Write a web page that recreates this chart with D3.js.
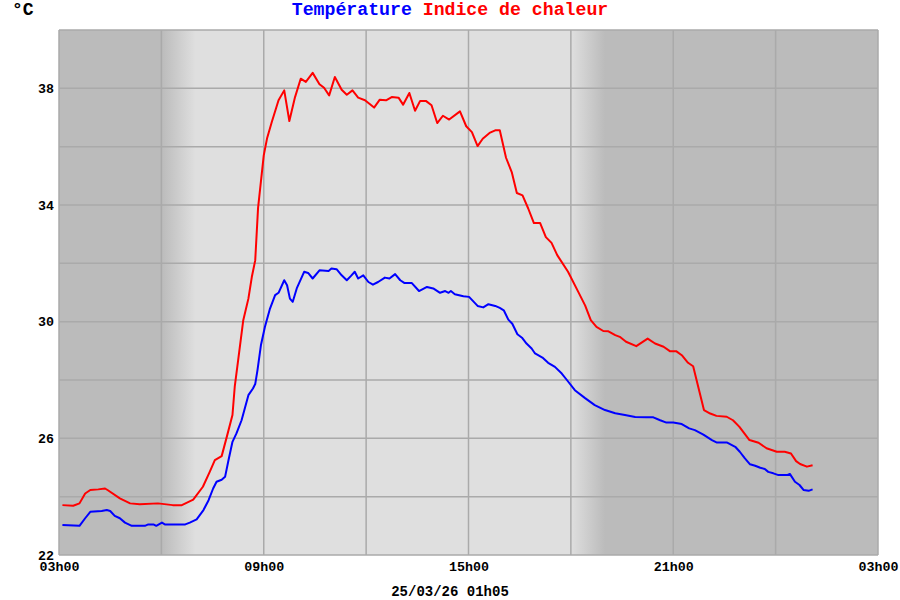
<!DOCTYPE html>
<html><head><meta charset="utf-8">
<script src="https://cdn.jsdelivr.net/npm/d3@7"></script>
<style>body{margin:0;background:#fff}svg{display:block}</style>
</head><body><svg id="c" width="900" height="600"></svg>
<script>
// ---------- data ----------
const heatTimes = ["03:06","03:25","03:36","03:46","03:55","04:09","04:21","04:26","04:47","05:05","05:22","05:54","06:20","06:36","06:56","07:13","07:25","07:34","07:46","07:55","08:05","08:09","08:15","08:24","08:33","08:39","08:45","08:50","08:55","09:00","09:06","09:14","09:26","09:36","09:45","09:55","10:05","10:14","10:26","10:38","10:46","10:55","11:05","11:17","11:26","11:36","11:46","11:58","12:14","12:24","12:35","12:45","12:57","13:05","13:16","13:26","13:35","13:45","13:55","14:05","14:15","14:26","14:45","14:56","15:06","15:16","15:25","15:37","15:47","15:55","16:06","16:16","16:25","16:35","16:45","16:55","17:06","17:16","17:26","17:36","17:55","18:13","18:25","18:35","18:45","18:57","19:06","19:18","19:26","19:37","19:55","20:15","20:28","20:43","20:54","21:05","21:15","21:26","21:35","21:54","22:05","22:16","22:34","22:45","22:56","23:14","23:30","23:44","00:02","00:16","00:27","00:36","00:43","00:55","01:05"];
const heatValues = [23.71,23.69,23.77,24.11,24.23,24.25,24.28,24.22,23.94,23.77,23.74,23.77,23.71,23.71,23.9,24.34,24.85,25.25,25.39,26.05,26.8,27.77,28.68,30.05,30.79,31.53,32.1,33.9,34.8,35.7,36.3,36.84,37.59,37.93,36.88,37.7,38.33,38.22,38.53,38.14,38.02,37.76,38.39,37.95,37.78,37.93,37.68,37.59,37.34,37.61,37.59,37.7,37.68,37.44,37.84,37.23,37.57,37.57,37.42,36.81,37.06,36.93,37.21,36.7,36.5,36.02,36.27,36.47,36.56,36.56,35.62,35.13,34.41,34.33,33.88,33.38,33.38,32.9,32.7,32.28,31.71,31.02,30.56,30.05,29.82,29.68,29.67,29.54,29.48,29.31,29.16,29.42,29.25,29.14,28.99,28.99,28.85,28.59,28.47,26.97,26.85,26.77,26.74,26.62,26.4,25.94,25.85,25.66,25.54,25.54,25.48,25.22,25.12,25.03,25.08];

const tempTimes = ["03:06","03:36","03:46","03:55","04:15","04:24","04:30","04:38","04:47","04:56","05:08","05:31","05:37","05:46","05:51","06:01","06:06","06:42","06:50","07:02","07:14","07:23","07:31","07:37","07:46","07:52","07:58","08:05","08:12","08:21","08:33","08:41","08:45","08:49","08:55","09:02","09:11","09:20","09:26","09:36","09:41","09:46","09:51","09:58","10:11","10:18","10:26","10:38","10:54","10:59","11:08","11:17","11:26","11:33","11:40","11:46","11:55","12:04","12:12","12:21","12:33","12:41","12:51","13:00","13:07","13:20","13:33","13:47","13:58","14:10","14:19","14:25","14:29","14:36","14:51","15:01","15:16","15:26","15:35","15:47","15:55","16:02","16:10","16:17","16:26","16:34","16:42","16:51","16:57","17:10","17:20","17:32","17:44","17:53","18:07","18:25","18:42","19:00","19:18","19:35","19:53","20:13","20:25","20:37","20:48","21:00","21:15","21:28","21:38","21:53","22:08","22:16","22:34","22:49","22:57","23:06","23:15","23:24","23:33","23:41","23:47","23:56","00:05","00:20","00:25","00:34","00:42","00:49","00:58","01:05"];
const tempValues = [23.03,23.0,23.26,23.48,23.51,23.54,23.51,23.34,23.26,23.11,23.0,23.0,23.05,23.05,23.0,23.11,23.05,23.05,23.11,23.22,23.54,23.88,24.28,24.51,24.58,24.68,25.25,25.88,26.17,26.62,27.48,27.71,27.86,28.34,29.19,29.82,30.45,30.91,30.99,31.42,31.25,30.79,30.68,31.14,31.71,31.67,31.48,31.76,31.74,31.82,31.8,31.59,31.42,31.56,31.71,31.48,31.59,31.36,31.27,31.36,31.51,31.48,31.63,31.42,31.33,31.33,31.05,31.19,31.14,30.99,31.05,30.99,31.05,30.94,30.87,30.85,30.54,30.49,30.6,30.54,30.47,30.39,30.07,29.93,29.57,29.45,29.25,29.08,28.91,28.77,28.59,28.45,28.22,28.0,27.65,27.38,27.14,26.97,26.86,26.8,26.73,26.72,26.72,26.62,26.54,26.54,26.49,26.34,26.28,26.13,25.94,25.86,25.86,25.71,25.54,25.31,25.11,25.06,24.99,24.95,24.85,24.8,24.74,24.74,24.78,24.51,24.4,24.23,24.2,24.25];

const xTickTimes  = ["03:00","06:00","09:00","12:00","15:00","18:00","21:00","24:00","27:00"];
const xTickLabels = ["03h00","","09h00","","15h00","","21h00","","03h00"];
const yTickValues = [22,26,30,34,38];
const yDomain = [22,40];
const daylight = ["06:00","07:00","18:00","19:00"]; // dawn start, full day, dusk start, full night
const seriesNames = ["Température","Indice de chaleur"];
const unitLabel = "°C";
const stampLabel = "25/03/26 01h05";

// ---------- layout ----------
const W = 900, H = 600;
const m = {top:30, right:22, bottom:45, left:59};
const iw = W - m.left - m.right, ih = H - m.top - m.bottom;
const FONT = "'Liberation Mono','Courier New',monospace";

const day0 = new Date(2026,2,24,0,0);
function parseT(t){
  let [h,mm] = t.split(":").map(Number);
  if (h < 3) h += 24;
  return new Date(day0.getTime() + (h*60+mm)*60000);
}

const x = d3.scaleTime().domain([parseT("03:00"), parseT("27:00")]).range([0, iw]);
const y = d3.scaleLinear().domain(yDomain).range([ih, 0]);

const svg = d3.select("#c");
const defs = svg.append("defs");
const g = svg.append("g").attr("transform", `translate(${m.left},${m.top})`);

// background gradient (night / day)
const DARK = "#bbbbbb", LIGHT = "#dfdfdf";
const grad = defs.append("linearGradient").attr("id","bg")
  .attr("gradientUnits","userSpaceOnUse").attr("x1",0).attr("x2",iw).attr("y1",0).attr("y2",0);
const dl = daylight.map(t => x(parseT(t))/iw);
[[0,DARK],[dl[0],DARK],[dl[1],LIGHT],[dl[2],LIGHT],[dl[3],DARK],[1,DARK]].forEach(([o,c]) =>
  grad.append("stop").attr("offset",o).attr("stop-color",c));
g.append("rect").attr("width",iw).attr("height",ih).attr("fill","url(#bg)");

// grid
const GRID = "#aaaaaa";
g.append("g").selectAll("line").data(d3.range(yDomain[0], yDomain[1]+0.01, 2)).join("line")
  .attr("x1",0).attr("x2",iw).attr("y1",d=>y(d)).attr("y2",d=>y(d))
  .attr("stroke",GRID).attr("stroke-width",1.5);
g.append("g").selectAll("line").data(xTickTimes).join("line")
  .attr("x1",d=>x(parseT(d))).attr("x2",d=>x(parseT(d))).attr("y1",0).attr("y2",ih)
  .attr("stroke",GRID).attr("stroke-width",1.5);

// axes (labels only)
const xAxis = d3.axisBottom(x).tickValues(xTickTimes.map(parseT))
  .tickFormat((d,i)=>xTickLabels[i]).tickSize(0).tickPadding(7);
const gx = g.append("g").attr("transform",`translate(0,${ih})`).call(xAxis);
gx.select(".domain").remove();
gx.selectAll("text").attr("font-family",FONT).attr("font-weight","bold").attr("font-size",13.3).attr("fill","#000");

const yAxis = d3.axisLeft(y).tickValues(yTickValues).tickFormat(d3.format("d")).tickSize(0).tickPadding(5);
const gy = g.append("g").call(yAxis);
gy.select(".domain").remove();
gy.selectAll("text").attr("font-family",FONT).attr("font-weight","bold").attr("font-size",13.3).attr("fill","#000");

// lines
const line = d3.line().x(d=>x(d[0])).y(d=>y(d[1]));
const heat = heatTimes.map((t,i)=>[parseT(t), heatValues[i]]);
const temp = tempTimes.map((t,i)=>[parseT(t), tempValues[i]]);
g.append("path").datum(heat).attr("d",line).attr("fill","none").attr("stroke","#ff0000")
  .attr("stroke-width",2).attr("stroke-linejoin","round");
g.append("path").datum(temp).attr("d",line).attr("fill","none").attr("stroke","#0000ff")
  .attr("stroke-width",2).attr("stroke-linejoin","round");

// title
const title = svg.append("text").attr("x",450).attr("y",15).attr("text-anchor","middle")
  .attr("font-family",FONT).attr("font-weight","bold").attr("font-size",18.2).style("white-space","pre");
title.append("tspan").attr("fill","#0000ff").text(seriesNames[0]);
title.append("tspan").attr("fill","#ff0000").text(" " + seriesNames[1]);

svg.append("text").attr("x",12).attr("y",15).attr("font-family",FONT).attr("font-weight","bold")
  .attr("font-size",18).attr("fill","#000").text(unitLabel);

svg.append("text").attr("x",450).attr("y",596).attr("text-anchor","middle")
  .attr("font-family",FONT).attr("font-weight","bold").attr("font-size",14).attr("fill","#000").text(stampLabel);
</script></body></html>
